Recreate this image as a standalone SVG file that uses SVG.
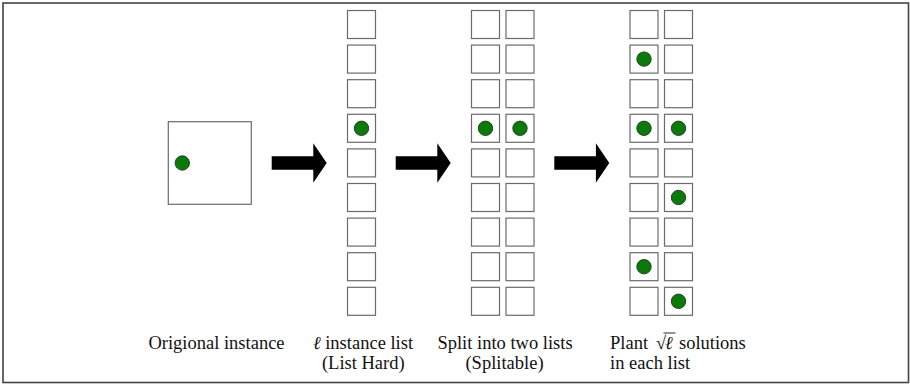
<svg xmlns="http://www.w3.org/2000/svg" xmlns:xlink="http://www.w3.org/1999/xlink" width="910" height="384" viewBox="0 0 910 384">
<style>
.box{fill:#fff;stroke:#6b6b6b;stroke-width:1.2}
.dot{fill:#0b7a0b;stroke:#1a3a1a;stroke-width:0.9}
.lbl{font-family:"Liberation Serif","DejaVu Serif",serif;font-size:18.5px;fill:#111}
.arrow{fill:#000}
</style>
<defs>
<path id="arr" class="arrow" d="M0,-6.7 H41.6 V-19.7 L55,0 L41.6,19.7 V6.7 H0 Z"/>
<rect id="b" class="box" width="28" height="28"/>
</defs>
<rect x="0" y="0" width="910" height="384" fill="#fff"/>
<rect x="3" y="3" width="905.5" height="379.5" fill="none" stroke="#444" stroke-width="1.6"/>
<g id="original">
<rect class="box" x="168.3" y="121.7" width="83" height="82.6"/>
<circle class="dot" cx="182.3" cy="163" r="7.2"/>
</g>
<g id="list">
<use xlink:href="#b" x="347.5" y="10.5"/>
<use xlink:href="#b" x="347.5" y="45.1"/>
<use xlink:href="#b" x="347.5" y="79.7"/>
<use xlink:href="#b" x="347.5" y="114.3"/>
<use xlink:href="#b" x="347.5" y="148.9"/>
<use xlink:href="#b" x="347.5" y="183.5"/>
<use xlink:href="#b" x="347.5" y="218.1"/>
<use xlink:href="#b" x="347.5" y="252.7"/>
<use xlink:href="#b" x="347.5" y="287.3"/>
<circle class="dot" cx="361.5" cy="128.3" r="7.2"/>
</g>
<g id="split">
<use xlink:href="#b" x="471.5" y="10.5"/>
<use xlink:href="#b" x="471.5" y="45.1"/>
<use xlink:href="#b" x="471.5" y="79.7"/>
<use xlink:href="#b" x="471.5" y="114.3"/>
<use xlink:href="#b" x="471.5" y="148.9"/>
<use xlink:href="#b" x="471.5" y="183.5"/>
<use xlink:href="#b" x="471.5" y="218.1"/>
<use xlink:href="#b" x="471.5" y="252.7"/>
<use xlink:href="#b" x="471.5" y="287.3"/>
<use xlink:href="#b" x="506" y="10.5"/>
<use xlink:href="#b" x="506" y="45.1"/>
<use xlink:href="#b" x="506" y="79.7"/>
<use xlink:href="#b" x="506" y="114.3"/>
<use xlink:href="#b" x="506" y="148.9"/>
<use xlink:href="#b" x="506" y="183.5"/>
<use xlink:href="#b" x="506" y="218.1"/>
<use xlink:href="#b" x="506" y="252.7"/>
<use xlink:href="#b" x="506" y="287.3"/>
<circle class="dot" cx="485.5" cy="128.3" r="7.2"/>
<circle class="dot" cx="520" cy="128.3" r="7.2"/>
</g>
<g id="plant">
<use xlink:href="#b" x="630" y="10.5"/>
<use xlink:href="#b" x="630" y="45.1"/>
<use xlink:href="#b" x="630" y="79.7"/>
<use xlink:href="#b" x="630" y="114.3"/>
<use xlink:href="#b" x="630" y="148.9"/>
<use xlink:href="#b" x="630" y="183.5"/>
<use xlink:href="#b" x="630" y="218.1"/>
<use xlink:href="#b" x="630" y="252.7"/>
<use xlink:href="#b" x="630" y="287.3"/>
<use xlink:href="#b" x="664.5" y="10.5"/>
<use xlink:href="#b" x="664.5" y="45.1"/>
<use xlink:href="#b" x="664.5" y="79.7"/>
<use xlink:href="#b" x="664.5" y="114.3"/>
<use xlink:href="#b" x="664.5" y="148.9"/>
<use xlink:href="#b" x="664.5" y="183.5"/>
<use xlink:href="#b" x="664.5" y="218.1"/>
<use xlink:href="#b" x="664.5" y="252.7"/>
<use xlink:href="#b" x="664.5" y="287.3"/>
<circle class="dot" cx="644" cy="59.1" r="7.2"/>
<circle class="dot" cx="644" cy="128.3" r="7.2"/>
<circle class="dot" cx="678.5" cy="128.3" r="7.2"/>
<circle class="dot" cx="678.5" cy="197.5" r="7.2"/>
<circle class="dot" cx="644" cy="266.7" r="7.2"/>
<circle class="dot" cx="678.5" cy="301.3" r="7.2"/>
</g>
<g id="connectors">
<use xlink:href="#arr" x="271.7" y="163"/>
<use xlink:href="#arr" x="395.7" y="163"/>
<use xlink:href="#arr" x="554.3" y="163"/>
</g>
<g id="labels">
<text class="lbl" x="216.5" y="349" text-anchor="middle">Origional instance</text>
<text class="lbl" x="363" y="349" text-anchor="middle"><tspan font-style="italic">ℓ</tspan> instance list</text>
<text class="lbl" x="363.3" y="369" text-anchor="middle">(List Hard)</text>
<text class="lbl" x="505" y="349" text-anchor="middle">Split into two lists</text>
<text class="lbl" x="504.5" y="369" text-anchor="middle">(Splitable)</text>
<text class="lbl" y="349"><tspan x="610">Plant</tspan><tspan x="656">√</tspan><tspan x="665" font-style="italic">ℓ</tspan><tspan x="679">solutions</tspan></text>
<line x1="663.5" y1="333" x2="675.5" y2="333" stroke="#111" stroke-width="0.9"/>
<text class="lbl" x="610" y="369">in each list</text>
</g>
</svg>
